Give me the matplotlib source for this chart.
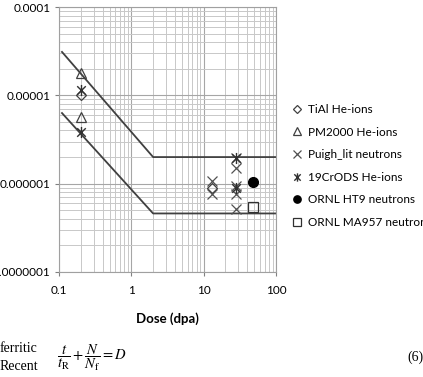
import matplotlib
matplotlib.use("Agg")
import matplotlib.pyplot as plt
import numpy as np
from matplotlib.path import Path
from matplotlib.ticker import FixedLocator, LogLocator, NullFormatter

# data
tial_x = [0.2, 13]
tial_y = [1.0e-5, 9.0e-7]
pm_x = [0.2, 0.2]
pm_y = [1.78e-5, 5.7e-6]
pugh_x = [13, 13, 28, 28, 28, 28, 28]
pugh_y = [1.07e-6, 7.6e-7, 1.95e-6, 1.5e-6, 9.5e-7, 7.7e-7, 5.2e-7]
cr_x = [0.2, 0.2, 28, 28]
cr_y = [1.15e-5, 3.8e-6, 1.95e-6, 9.0e-7]
ht9_x = [48]
ht9_y = [1.05e-6]
ma_x = [48]
ma_y = [5.4e-7]

upper_x = [0.11, 2, 100]
upper_y = [3.1e-5, 2.0e-6, 2.0e-6]
lower_x = [0.11, 2, 100]
lower_y = [6.3e-6, 4.6e-7, 4.6e-7]

xticks = [0.1, 1, 10, 100]
xlabels = ['0.1', '1', '10', '100']
yticks = [1e-7, 1e-6, 1e-5, 1e-4]
ylabels = ['0.0000001', '0.000001', '0.00001', '0.0001']

plt.rcParams['font.family'] = ['Lato', 'DejaVu Sans']
plt.rcParams['mathtext.fontset'] = 'stix'

# asterisk marker: an x with a vertical bar
star = Path([(-1, -1), (1, 1), (-1, 1), (1, -1), (0, -1.3), (0, 1.3)],
            [Path.MOVETO, Path.LINETO, Path.MOVETO, Path.LINETO, Path.MOVETO, Path.LINETO])

fig = plt.figure(figsize=(4.23, 3.77), dpi=100)
ax = fig.add_axes([59 / 423, 105 / 377, 217 / 423, 265 / 377])
ax.set_xscale('log')
ax.set_yscale('log')
ax.set_xlim(0.1, 100)
ax.set_ylim(1e-7, 1e-4)

ax.plot(upper_x, upper_y, color='#404040', lw=1.3, zorder=2)
ax.plot(lower_x, lower_y, color='#404040', lw=1.3, zorder=2)

ax.plot(tial_x, tial_y, ls='none', marker='D', ms=5, mfc='none', mec='#404040', mew=0.9,
        label='TiAl He-ions', zorder=3)
ax.plot(pm_x, pm_y, ls='none', marker='^', ms=7, mfc='none', mec='#404040', mew=0.9,
        label='PM2000 He-ions', zorder=3)
ax.plot(pugh_x, pugh_y, ls='none', marker='x', ms=7, mec='#505050', mew=0.9,
        label='Puigh_lit neutrons', zorder=3)
ax.plot(cr_x, cr_y, ls='none', marker=star, ms=8, mec='#303030', mew=1.0,
        label='19CrODS He-ions', zorder=3)
ax.plot(ht9_x, ht9_y, ls='none', marker='o', ms=7, mfc='black', mec='black',
        label='ORNL HT9 neutrons', zorder=3)
ax.plot(ma_x, ma_y, ls='none', marker='s', ms=7, mfc='none', mec='#303030', mew=0.9,
        label='ORNL MA957 neutrons', zorder=3)

ax.xaxis.set_major_locator(FixedLocator(xticks))
ax.set_xticklabels(xlabels)
ax.yaxis.set_major_locator(FixedLocator(yticks))
ax.set_yticklabels(ylabels)
ax.xaxis.set_minor_locator(LogLocator(base=10, subs=np.arange(2, 10)))
ax.yaxis.set_minor_locator(LogLocator(base=10, subs=np.arange(2, 10)))
ax.xaxis.set_minor_formatter(NullFormatter())
ax.yaxis.set_minor_formatter(NullFormatter())
ax.tick_params(which='major', length=3, width=0.8, color='#808080', labelsize=8.5, pad=3)
ax.tick_params(axis='x', which='major', pad=6)
ax.tick_params(which='minor', length=0)
ax.grid(which='major', color='#a6a6a6', lw=0.8)
ax.grid(which='minor', color='#c8c8c8', lw=0.7)
ax.set_axisbelow(True)
for s in ax.spines.values():
    s.set_color('#a0a0a0')
    s.set_linewidth(0.8)

ax.set_xlabel('Dose (dpa)', fontsize=9.5, fontweight='bold', labelpad=12)

ax.legend(loc='upper left', bbox_to_anchor=(292 / 423, 1 - 104 / 377),
          bbox_transform=fig.transFigure, frameon=False, fontsize=8.5,
          markerscale=0.75, handlelength=0.9, handletextpad=0.45, labelspacing=0.98,
          borderpad=0, borderaxespad=0)

# caption text below the chart
fig.text(0, 1 - 349 / 377, 'ferritic', family='Liberation Serif', fontsize=10, va='center')
fig.text(0, 1 - 367 / 377, 'Recent', family='Liberation Serif', fontsize=10, va='center')
fig.text(57 / 423, 1 - 358 / 377, r'$\dfrac{t}{t_\mathrm{R}}+\dfrac{N}{N_\mathrm{f}}=D$',
         fontsize=10.5, va='center')
fig.text(423 / 423, 1 - 357 / 377, '(6)', family='Liberation Serif', fontsize=10,
         va='center', ha='right')

fig.savefig('out.png', dpi=100)
